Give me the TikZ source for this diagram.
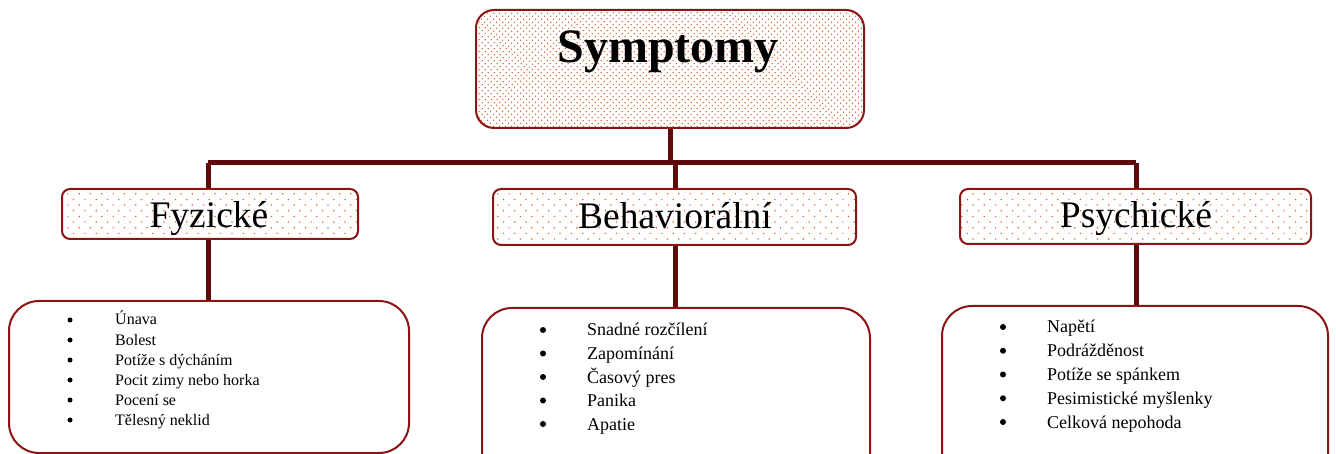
\documentclass[tikz,border=0pt]{standalone}
\usepackage{fontspec}
\setmainfont{Liberation Serif}
\usetikzlibrary{patterns.meta}
\definecolor{boxred}{RGB}{140,20,20}
\definecolor{connred}{RGB}{95,10,10}
\definecolor{dotcol}{RGB}{215,95,40}
\tikzset{
  topbox/.style={draw=boxred, line width=2pt, rounded corners=18pt, pattern={Dots[distance=4pt,angle=45,radius=0.8pt]}, pattern color=dotcol, minimum width=388pt, minimum height=118pt, inner sep=0pt},
  catbox/.style={draw=boxred, line width=2pt, rounded corners=8pt, pattern={Dots[distance=8pt,angle=45,radius=0.85pt]}, pattern color=dotcol, inner sep=0pt},
  listbox/.style={draw=boxred, line width=2pt, rounded corners=30pt, fill=white, inner sep=0pt},
  conn/.style={draw=connred, line width=5pt},
  cattext/.style={anchor=base, font=\fontsize{37.5}{42}\selectfont, inner sep=0pt},
  itemtext/.style={anchor=base west, inner sep=0pt},
  bul/.style={circle, fill=black, inner sep=0pt, minimum size=5pt},
}
\begin{document}
\begin{tikzpicture}[x=1pt,y=-1pt]
\useasboundingbox (0,0) rectangle (1336,454);
\clip (0,0) rectangle (1336,454);
% junction coordinates
\coordinate (jL) at (208,163);
\coordinate (jM) at (675,163);
\coordinate (jR) at (1136,163);
\coordinate (jT) at (670,163);
% top
\node[topbox] (top) at (670,69) {};
\node[anchor=base, inner sep=0pt, font=\fontsize{48}{52}\selectfont\bfseries] (toptxt) at (668,63) {Symptomy};
% category boxes
\node[catbox, minimum width=296pt, minimum height=50pt] (fyz) at (210,214) {};
\node[catbox, minimum width=363pt, minimum height=56pt] (beh) at (674.5,217) {};
\node[catbox, minimum width=351pt, minimum height=55pt] (psy) at (1135.5,216.5) {};
\node[cattext] (fyzt) at (209,228) {Fyzické};
\node[cattext] (beht) at (675,229) {Behaviorální};
\node[cattext] (psyt) at (1136,228) {Psychické};
% list boxes
\node[listbox, minimum width=400pt, minimum height=152pt] (fyzl) at (209,377) {};
\node[listbox, minimum width=388pt, minimum height=180pt] (behl) at (676,398) {};
\node[listbox, minimum width=386pt, minimum height=180pt] (psyl) at (1135,396) {};
% connectors
\draw[conn] (top.south) -- (jT);
\draw[conn] (jL) -- (jR);
\draw[conn] (jL) -- (fyz.north -| jL);
\draw[conn] (jM) -- (beh.north -| jM);
\draw[conn] (jR) -- (psy.north -| jR);
\draw[conn] (fyz.south -| jL) -- (fyzl.north -| jL);
\draw[conn] (beh.south -| jM) -- (behl.north -| jM);
\draw[conn] (psy.south -| jR) -- (psyl.north -| jR);
% lists
\begin{scope}[font=\fontsize{16}{18}\selectfont]
\foreach \t [count=\i] in {Únava,Bolest,Potíže s dýcháním,Pocit zimy nebo horka,Pocení se,Tělesný neklid}{
  \node[bul] (fb\i) at (70,{320+20*(\i-1)}) {};
  \node[itemtext] (fi\i) at (115,{325+20*(\i-1)}) {\t};
}
\end{scope}
\begin{scope}[font=\fontsize{18}{21}\selectfont]
\foreach \t [count=\i] in {Snadné rozčílení,Zapomínání,Časový pres,Panika,Apatie}{
  \node[bul, minimum size=6pt] (bb\i) at (543,{330+23.5*(\i-1)}) {};
  \node[itemtext] (bi\i) at (587,{336+23.5*(\i-1)}) {\t};
}
\foreach \t [count=\i] in {Napětí,Podrážděnost,Potíže se spánkem,Pesimistické myšlenky,Celková nepohoda}{
  \node[bul, minimum size=6pt] (pb\i) at (1003,{327+23.75*(\i-1)}) {};
  \node[itemtext] (pi\i) at (1047,{333+23.75*(\i-1)}) {\t};
}
\end{scope}
\end{tikzpicture}
\end{document}
